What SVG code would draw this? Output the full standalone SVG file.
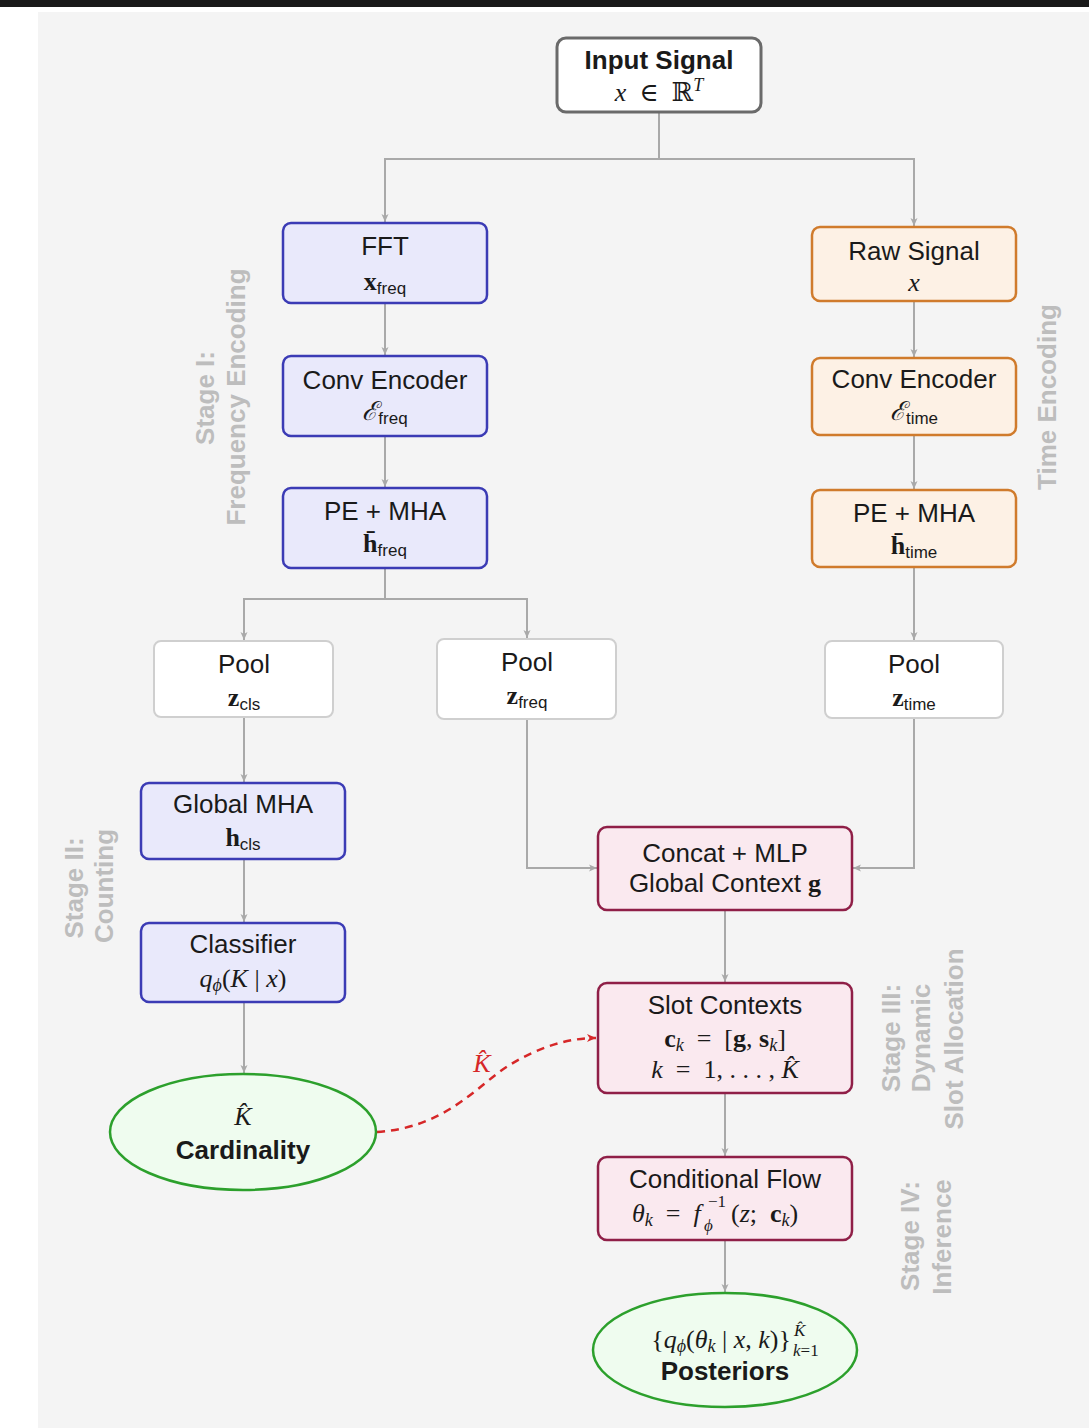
<svg xmlns="http://www.w3.org/2000/svg" width="1089" height="1428" viewBox="0 0 1089 1428">
<defs>
<style>
.t{font-family:"Liberation Sans",Arial,sans-serif;font-size:26px;fill:#1a1a1a;text-anchor:middle}
.b{font-weight:bold}
.m{font-family:"Liberation Serif","DejaVu Serif",serif;font-size:26px;fill:#1a1a1a;text-anchor:middle}
.i{font-style:italic}
.bf{font-weight:bold;font-style:normal}
.s{font-family:"Liberation Sans",Arial,sans-serif;font-size:17px;font-style:normal;font-weight:normal}
.ss{font-size:18px}
.stage{font-family:"Liberation Sans",Arial,sans-serif;font-size:26px;font-weight:bold;fill:#bdbdbd;text-anchor:middle}
.blue{fill:#e9e9fb;stroke:#3b3bb5;stroke-width:2.5}
.orange{fill:#fdf1e5;stroke:#d07b2c;stroke-width:2.5}
.pink{fill:#fae9ef;stroke:#8f1f47;stroke-width:2.5}
.pool{fill:#ffffff;stroke:#cfcfcf;stroke-width:2}
.green{fill:#effcef;stroke:#2ca02c;stroke-width:2.5}
.edge{fill:none;stroke:#a9a9a9;stroke-width:2}
</style>
<marker id="ah" markerWidth="10" markerHeight="10" refX="9" refY="5" orient="auto" markerUnits="userSpaceOnUse">
<path d="M1,1.5 L9,5 L1,8.5 L3,5 Z" fill="#a9a9a9"/>
</marker>
<marker id="ahr" markerWidth="12" markerHeight="12" refX="10" refY="6" orient="auto" markerUnits="userSpaceOnUse">
<path d="M1,2 L10,6 L1,10 L3.5,6 Z" fill="#d62728"/>
</marker>
</defs>
<rect x="0" y="0" width="1089" height="1428" fill="#ffffff"/>
<rect x="38" y="12" width="1051" height="1416" fill="#f4f4f4"/>
<rect x="0" y="0" width="1089" height="7" fill="#1a1a1a"/>

<g id="stage-labels">
<text class="stage" transform="translate(214,398) rotate(-90)">Stage I:</text>
<text class="stage" transform="translate(245,397) rotate(-90)">Frequency Encoding</text>
<text class="stage" transform="translate(1056,397) rotate(-90)">Time Encoding</text>
<text class="stage" transform="translate(83,888) rotate(-90)">Stage II:</text>
<text class="stage" transform="translate(113,886) rotate(-90)">Counting</text>
<text class="stage" transform="translate(900,1038) rotate(-90)">Stage III:</text>
<text class="stage" transform="translate(930,1038) rotate(-90)">Dynamic</text>
<text class="stage" transform="translate(963,1039) rotate(-90)">Slot Allocation</text>
<text class="stage" transform="translate(919,1236) rotate(-90)">Stage IV:</text>
<text class="stage" transform="translate(951,1237) rotate(-90)">Inference</text>
</g>

<g id="connectors">
<path class="edge" d="M659,112 V159 H385 V222" marker-end="url(#ah)"/>
<path class="edge" d="M659,159 H914 V226" marker-end="url(#ah)"/>
<path class="edge" d="M385,303 V355" marker-end="url(#ah)"/>
<path class="edge" d="M385,436 V487" marker-end="url(#ah)"/>
<path class="edge" d="M385,568 V599 H244 V640" marker-end="url(#ah)"/>
<path class="edge" d="M385,599 H527 V638" marker-end="url(#ah)"/>
<path class="edge" d="M914,301 V357" marker-end="url(#ah)"/>
<path class="edge" d="M914,435 V489" marker-end="url(#ah)"/>
<path class="edge" d="M914,567 V640" marker-end="url(#ah)"/>
<path class="edge" d="M244,717 V782" marker-end="url(#ah)"/>
<path class="edge" d="M244,859 V922" marker-end="url(#ah)"/>
<path class="edge" d="M244,1002 V1073" marker-end="url(#ah)"/>
<path class="edge" d="M527,719 V868 H597" marker-end="url(#ah)"/>
<path class="edge" d="M914,718 V868 H853" marker-end="url(#ah)"/>
<path class="edge" d="M725,910 V982" marker-end="url(#ah)"/>
<path class="edge" d="M725,1093 V1156" marker-end="url(#ah)"/>
<path class="edge" d="M725,1240 V1292" marker-end="url(#ah)"/>
<path d="M377,1132 C445,1128 478,1085 508,1066 C540,1046 570,1038 596,1038" fill="none" stroke="#d62728" stroke-width="2.5" stroke-dasharray="8,6" marker-end="url(#ahr)"/>
<text class="m i" x="482" y="1072" style="fill:#d62728">K&#770;</text>
</g>

<g id="input">
<rect x="557" y="38" width="204" height="74" rx="9" fill="#ffffff" stroke="#6a6a6a" stroke-width="3"/>
<text class="t b" x="659" y="69">Input Signal</text>
<text class="m" x="659" y="101"><tspan class="i">x</tspan>&#8194;∈&#8194;ℝ<tspan class="i ss" dy="-10">T</tspan></text>
</g>

<g id="fft">
<rect class="blue" x="283" y="223" width="204" height="80" rx="8"/>
<text class="t" x="385" y="255">FFT</text>
<text class="m" x="385" y="290"><tspan class="bf">x</tspan><tspan class="s" dy="4">freq</tspan></text>
</g>

<g id="conv-freq">
<rect class="blue" x="283" y="356" width="204" height="80" rx="8"/>
<text class="t" x="385" y="389">Conv Encoder</text>
<text class="m" x="385" y="420"><tspan class="i">ℰ</tspan><tspan class="s" dy="4">freq</tspan></text>
</g>

<g id="pe-freq">
<rect class="blue" x="283" y="488" width="204" height="80" rx="8"/>
<text class="t" x="385" y="520">PE + MHA</text>
<text class="m" x="385" y="552"><tspan class="bf">h&#772;</tspan><tspan class="s" dy="4">freq</tspan></text>
</g>

<g id="raw">
<rect class="orange" x="812" y="227" width="204" height="74" rx="8"/>
<text class="t" x="914" y="260">Raw Signal</text>
<text class="m i" x="914" y="291">x</text>
</g>

<g id="conv-time">
<rect class="orange" x="812" y="358" width="204" height="77" rx="8"/>
<text class="t" x="914" y="388">Conv Encoder</text>
<text class="m" x="914" y="420"><tspan class="i">ℰ</tspan><tspan class="s" dy="4">time</tspan></text>
</g>

<g id="pe-time">
<rect class="orange" x="812" y="490" width="204" height="77" rx="8"/>
<text class="t" x="914" y="522">PE + MHA</text>
<text class="m" x="914" y="554"><tspan class="bf">h&#772;</tspan><tspan class="s" dy="4">time</tspan></text>
</g>

<g id="pool-cls">
<rect class="pool" x="154" y="641" width="179" height="76" rx="7"/>
<text class="t" x="244" y="673">Pool</text>
<text class="m" x="244" y="706"><tspan class="bf">z</tspan><tspan class="s" dy="4">cls</tspan></text>
</g>

<g id="pool-freq">
<rect class="pool" x="437" y="639" width="179" height="80" rx="7"/>
<text class="t" x="527" y="671">Pool</text>
<text class="m" x="527" y="704"><tspan class="bf">z</tspan><tspan class="s" dy="4">freq</tspan></text>
</g>

<g id="pool-time">
<rect class="pool" x="825" y="641" width="178" height="77" rx="7"/>
<text class="t" x="914" y="673">Pool</text>
<text class="m" x="914" y="706"><tspan class="bf">z</tspan><tspan class="s" dy="4">time</tspan></text>
</g>

<g id="global-mha">
<rect class="blue" x="141" y="783" width="204" height="76" rx="8"/>
<text class="t" x="243" y="813">Global MHA</text>
<text class="m" x="243" y="846"><tspan class="bf">h</tspan><tspan class="s" dy="4">cls</tspan></text>
</g>

<g id="classifier">
<rect class="blue" x="141" y="923" width="204" height="79" rx="8"/>
<text class="t" x="243" y="953">Classifier</text>
<text class="m" x="243" y="987"><tspan class="i">q</tspan><tspan class="i ss" dy="4">ϕ</tspan><tspan dy="-4">(</tspan><tspan class="i">K</tspan> | <tspan class="i">x</tspan>)</text>
</g>

<g id="cardinality">
<ellipse class="green" cx="243" cy="1132" rx="133" ry="58"/>
<text class="m i" x="243" y="1125">K&#770;</text>
<text class="t b" x="243" y="1159">Cardinality</text>
</g>

<g id="concat">
<rect class="pink" x="598" y="827" width="254" height="83" rx="9"/>
<text class="t" x="725" y="862">Concat + MLP</text>
<text class="t" x="725" y="892">Global Context <tspan style="font-family:'Liberation Serif','DejaVu Serif',serif;font-weight:bold">g</tspan></text>
</g>

<g id="slot">
<rect class="pink" x="598" y="983" width="254" height="110" rx="9"/>
<text class="t" x="725" y="1014">Slot Contexts</text>
<text class="m" x="725" y="1047"><tspan class="bf">c</tspan><tspan class="i ss" dy="4">k</tspan><tspan dy="-4">&#8194;=&#8194;[</tspan><tspan class="bf">g</tspan>, <tspan class="bf">s</tspan><tspan class="i ss" dy="4">k</tspan><tspan dy="-4">]</tspan></text>
<text class="m" x="725" y="1078"><tspan class="i">k</tspan>&#8194;=&#8194;1, . . . , <tspan class="i">K&#770;</tspan></text>
</g>

<g id="flow">
<rect class="pink" x="598" y="1157" width="254" height="83" rx="9"/>
<text class="t" x="725" y="1188">Conditional Flow</text>
<text class="m" x="632" y="1222" style="text-anchor:start"><tspan class="i">θ</tspan><tspan class="i ss" dy="4">k</tspan><tspan dy="-4">&#8194;=&#8194;</tspan><tspan class="i">f</tspan></text>
<text class="m" x="708" y="1207" style="text-anchor:start;font-size:17px">−1</text>
<text class="m i" x="704" y="1231" style="text-anchor:start;font-size:17px">ϕ</text>
<text class="m" x="731" y="1222" style="text-anchor:start">(<tspan class="i">z</tspan>;&#8194;<tspan class="bf">c</tspan><tspan class="i ss" dy="4">k</tspan><tspan dy="-4">)</tspan></text>
</g>

<g id="posteriors">
<ellipse class="green" cx="725" cy="1350" rx="132" ry="57"/>
<text class="m" x="791" y="1348" style="text-anchor:end">{<tspan class="i">q</tspan><tspan class="i ss" dy="4">ϕ</tspan><tspan dy="-4">(</tspan><tspan class="i">θ</tspan><tspan class="i ss" dy="4">k</tspan><tspan dy="-4"> | </tspan><tspan class="i">x</tspan>, <tspan class="i">k</tspan>)}</text>
<text class="m i" x="794" y="1336" style="text-anchor:start;font-size:17px">K&#770;</text>
<text class="m" x="793" y="1356" style="text-anchor:start;font-size:17px"><tspan class="i">k</tspan>=1</text>
<text class="t b" x="725" y="1380">Posteriors</text>
</g>
</svg>
